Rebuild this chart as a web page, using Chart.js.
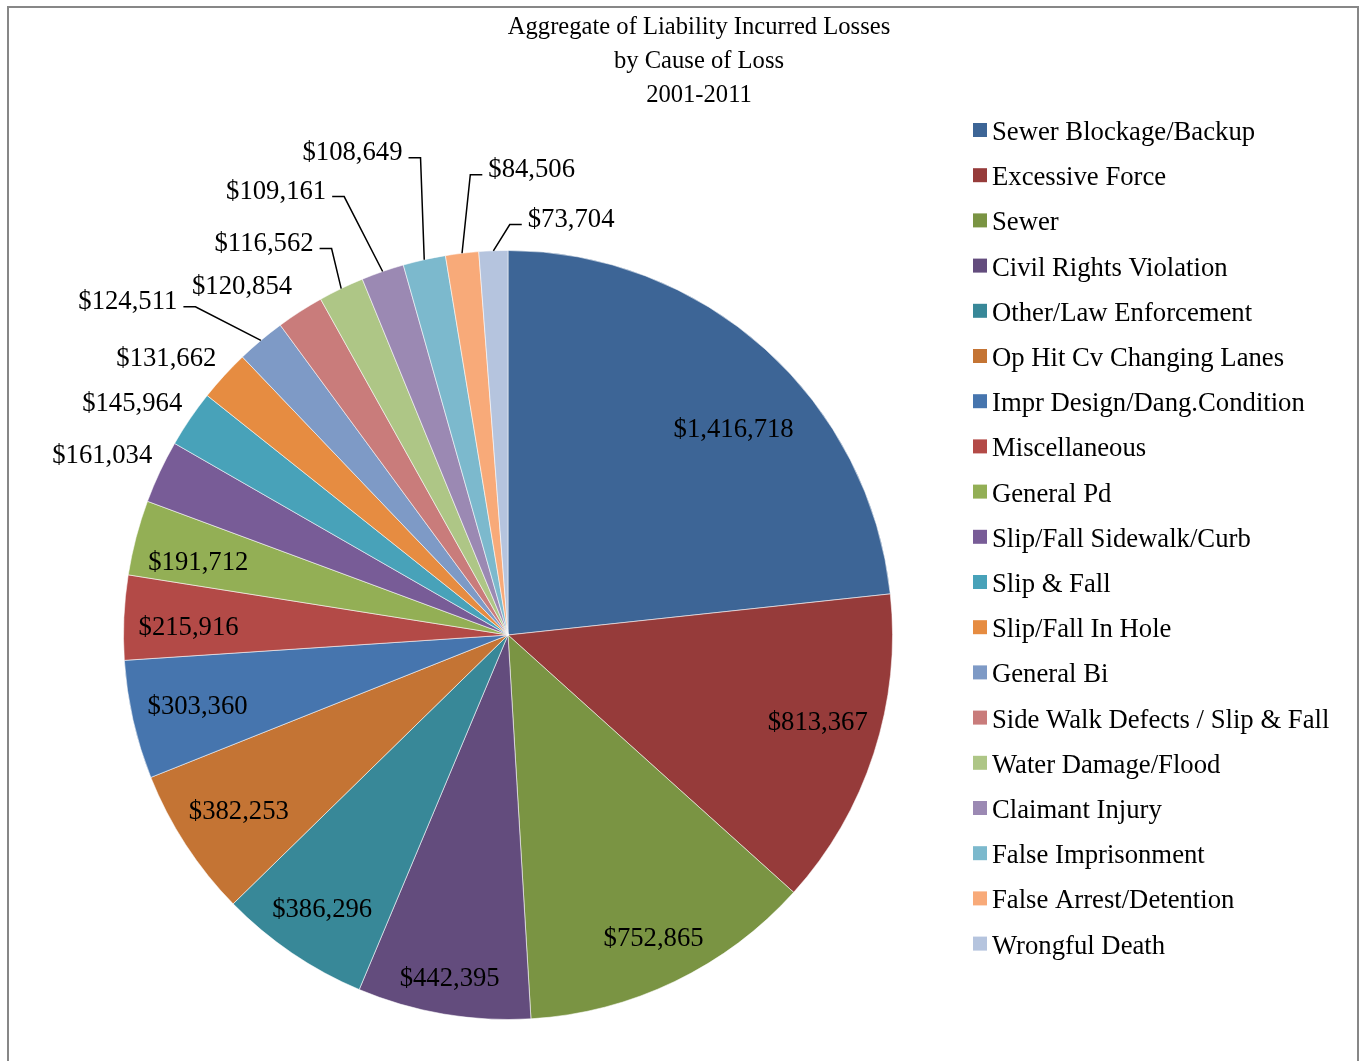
<!DOCTYPE html>
<html>
<head>
<meta charset="utf-8">
<title>Aggregate of Liability Incurred Losses</title>
<script src="https://cdn.jsdelivr.net/npm/chart.js@4.4.1/dist/chart.umd.min.js"></script>
<style>
  html, body { margin: 0; padding: 0; background: #fff; }
  canvas { display: block; }
</style>
</head>
<body>
<canvas id="lossChart" width="1366" height="1061"></canvas>
<script>
const titleLines = ["Aggregate of Liability Incurred Losses", "by Cause of Loss", "2001-2011"];

const causes = [
    "Sewer Blockage/Backup",
    "Excessive Force",
    "Sewer",
    "Civil Rights Violation",
    "Other/Law Enforcement",
    "Op Hit Cv Changing Lanes",
    "Impr Design/Dang.Condition",
    "Miscellaneous",
    "General Pd",
    "Slip/Fall Sidewalk/Curb",
    "Slip & Fall",
    "Slip/Fall In Hole",
    "General Bi",
    "Side Walk Defects / Slip & Fall",
    "Water Damage/Flood",
    "Claimant Injury",
    "False Imprisonment",
    "False Arrest/Detention",
    "Wrongful Death"
];

const losses = [
    1416718, 813367, 752865, 442395, 386296, 382253, 303360, 215916, 191712,
    161034, 145964, 131662, 124511, 120854, 116562, 109161, 108649, 84506, 73704
];

const sliceColors = [
    "#3d6596", "#963b3a", "#7a9443", "#634c7d", "#388898", "#c47434",
    "#4675ae", "#b34a47", "#93af55", "#785c97", "#48a2b9", "#e68c41",
    "#7e9ac6", "#c97c7b", "#aec686", "#9b89b3", "#7cb9cd", "#f8aa79", "#b5c4de"
];

// hand-placed labels: angle in degrees clockwise from 12 o'clock,
// distance in pie radii; the rest are fitted inside their slice
const labelSpots = {
    0:  { angle: 47.5,  dist: 0.796 },
    1:  { angle: 105.5, dist: 0.836 },
    7:  { angle: 271.6, dist: 0.831 },
    8:  { angle: 283.4, dist: 0.828 },
    9:  { angle: 294.1, dist: 1.156 },
    10: { angle: 301.8, dist: 1.150 },
    11: { angle: 309.1, dist: 1.145 },
    12: { angle: 311.4, dist: 1.318, leader: true },
    13: { angle: 322.8, dist: 1.144 },
    14: { angle: 328.2, dist: 1.204, leader: true },
    15: { angle: 332.5, dist: 1.306, leader: true },
    16: { angle: 342.2, dist: 1.323, leader: true },
    17: { angle: 2.9,   dist: 1.217, leader: true },
    18: { angle: 8.6,   dist: 1.098, leader: true }
};

const serif = "'Liberation Serif', 'Times New Roman', serif";

function money(v) {
    return "$" + v.toLocaleString("en-US");
}

// push a label along the slice bisector until its box just fits inside the circle
function insideSpot(cx, cy, r, mid, w, h, margin) {
    const ux = Math.cos(mid), uy = Math.sin(mid);
    let lo = 0, hi = r;
    for (let k = 0; k < 40; k++) {
        const d = (lo + hi) / 2;
        const fx = Math.abs(ux * d) + w / 2;
        const fy = Math.abs(uy * d) + h / 2;
        if (Math.hypot(fx, fy) > r - margin) hi = d; else lo = d;
    }
    return { x: cx + ux * lo, y: cy + uy * lo };
}

const decorPlugin = {
    id: "decor",
    afterDraw(chart) {
        const ctx = chart.ctx;
        ctx.save();

        // outer frame
        ctx.strokeStyle = "#878787";
        ctx.lineWidth = 2;
        ctx.beginPath();
        ctx.moveTo(8, chart.height);
        ctx.lineTo(8, 7);
        ctx.lineTo(1358, 7);
        ctx.lineTo(1358, chart.height);
        ctx.stroke();

        // title
        ctx.fillStyle = "#000";
        ctx.textAlign = "center";
        ctx.textBaseline = "middle";
        ctx.font = "24.6px " + serif;
        titleLines.forEach((t, i) => ctx.fillText(t, 699, 28 + i * 34));

        // legend
        ctx.textAlign = "left";
        ctx.font = "26.7px " + serif;
        causes.forEach((name, i) => {
            const y = 133 + i * 45.2;
            ctx.fillStyle = sliceColors[i];
            ctx.fillRect(973, y - 10, 14, 14);
            ctx.fillStyle = "#000";
            ctx.fillText(name, 992, y);
        });

        // value labels
        const total = losses.reduce((a, b) => a + b, 0);
        const arcs = chart.getDatasetMeta(0).data;
        ctx.font = "26.7px " + serif;
        ctx.textAlign = "center";
        ctx.strokeStyle = "#000";
        ctx.lineWidth = 1.5;
        arcs.forEach((arc, i) => {
            const { x: cx, y: cy, outerRadius: r, startAngle, endAngle } = arc.getProps(
                ["x", "y", "outerRadius", "startAngle", "endAngle"], true);
            const mid = (startAngle + endAngle) / 2;
            const text = money(losses[i]);
            const w = ctx.measureText(text).width;
            ctx.fillStyle = "#000";

            const spot = labelSpots[i];
            if (!spot) {
                const p = insideSpot(cx, cy, r, mid, w, 22, 15);
                ctx.fillText(text, p.x, p.y + 2);
                return;
            }

            const a = (spot.angle - 90) * Math.PI / 180;
            const lx = cx + Math.cos(a) * spot.dist * r;
            const ly = cy + Math.sin(a) * spot.dist * r;
            ctx.fillText(text, lx, ly + 2);

            if (spot.leader) {
                const ax = cx + Math.cos(mid) * r;
                const ay = cy + Math.sin(mid) * r;
                const side = lx < ax ? 1 : -1;
                const sx = lx + side * (w / 2 + 6);
                const sy = ly + 7;
                ctx.beginPath();
                ctx.moveTo(sx, sy);
                ctx.lineTo(sx + side * 12, sy);
                ctx.lineTo(ax, ay);
                ctx.stroke();
            }
        });

        ctx.restore();
    }
};

new Chart(document.getElementById("lossChart"), {
    type: "pie",
    data: {
        labels: causes,
        datasets: [{
            data: losses,
            backgroundColor: sliceColors,
            borderColor: "rgba(255,255,255,0.55)",
            borderWidth: 1
        }]
    },
    options: {
        responsive: false,
        animation: false,
        devicePixelRatio: 1,
        layout: {
            padding: { left: 123, right: 473, top: 250, bottom: 41 }
        },
        plugins: {
            legend: { display: false },
            title: { display: false },
            tooltip: { enabled: false }
        }
    },
    plugins: [decorPlugin]
});
</script>
</body>
</html>
